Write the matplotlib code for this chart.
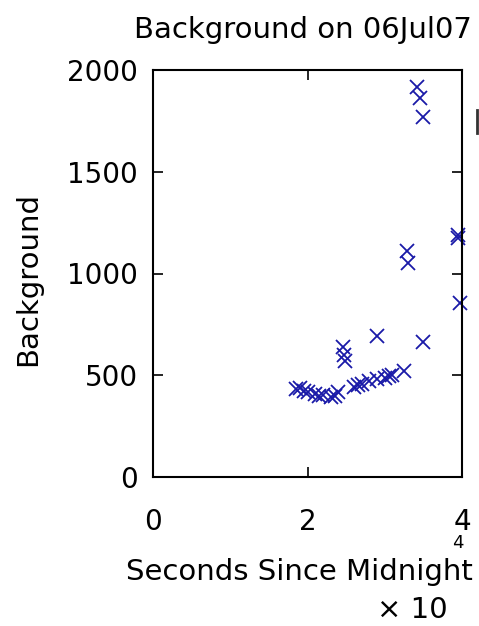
import matplotlib.pyplot as plt
from matplotlib.lines import Line2D
from matplotlib.ticker import FuncFormatter

# seconds since midnight and background counts
sec = [18500, 19000, 19500, 20000, 21000, 21500, 22000, 23000, 23500, 24000,
       24600, 24900, 24700, 26000, 26500, 27000, 28000, 29000, 29000, 30000,
       30500, 31000, 32500, 32900, 33000, 34200, 34600, 35000, 35000, 39500,
       39500, 39800]
bkg = [430, 435, 425, 420, 410, 400, 405, 395, 400, 420,
       637, 570, 600, 440, 450, 455, 470, 480, 695, 485,
       495, 500, 520, 1110, 1050, 1916, 1862, 1769, 663, 1189,
       1175, 855]

xticks = [0, 20000, 40000]
yticks = [0, 500, 1000, 1500, 2000]

W, H = 479, 626
fig = plt.figure(figsize=(W / 100, H / 100), dpi=100)
ax = fig.add_axes([153 / W, 1 - 477 / H, 309 / W, 407 / H])
ax.plot(sec, bkg, 'x', color='#1a1aa8', markersize=10, markeredgewidth=1.3,
        clip_on=False)

ax.set_xlim(0, 40000)
ax.set_ylim(0, 2000)
ax.set_xticks(xticks)
ax.set_yticks(yticks)
ax.xaxis.set_major_formatter(FuncFormatter(lambda v, p: '%d' % round(v / 1e4)))
ax.tick_params(direction='in', top=True, right=True, length=7, width=1.2,
               labelsize=20)
ax.tick_params(axis='x', pad=22)
ax.tick_params(axis='y', pad=11)
for s in ax.spines.values():
    s.set_linewidth(1.5)

fs = 21
fig.text(303 / W, 1 - 38 / H, 'Background on 06Jul07', fontsize=fs,
         ha='center', va='baseline')
fig.text(28 / W, 1 - 279 / H, 'Background', fontsize=fs, rotation=90,
         ha='center', va='center')
fig.text(299 / W, 1 - 580 / H, 'Seconds Since Midnight', fontsize=fs,
         ha='center', va='baseline')
# exponent of the x-axis multiplier
fig.text(458 / W, 1 - 548 / H, '4', fontsize=13, ha='center', va='baseline')
fig.text(377 / W, 1 - 618 / H, '\u00d7 10', fontsize=fs, ha='left',
         va='baseline')
# edge of something cut off at the right border
fig.add_artist(Line2D([477 / W, 477 / W], [1 - 110 / H, 1 - 133 / H],
                      color='#333333', linewidth=2))

plt.savefig('out.png', dpi=100)
